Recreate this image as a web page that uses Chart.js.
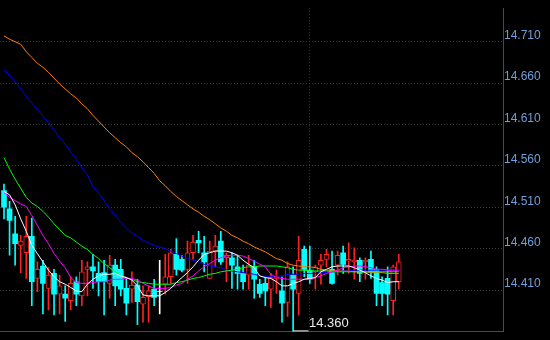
<!DOCTYPE html>
<html>
<head>
<meta charset="utf-8">
<script src="https://cdn.jsdelivr.net/npm/chart.js@4.4.1/dist/chart.umd.min.js"></script>
<style>
html, body { margin: 0; padding: 0; background: #000; }
canvas { display: block; }
</style>
</head>
<body>
<canvas id="kline" width="550" height="340"></canvas>
<script>
// daily candles, oldest first
const opens  = [14.530,14.508,14.478,14.464,14.455,14.475,14.424,14.439,14.412,14.430,14.405,14.405,14.397,14.420,14.403,14.435,14.438,14.430,14.431,14.418,14.440,14.435,14.412,14.411,14.416,14.393,14.402,14.411,14.408,14.417,14.426,14.453,14.447,14.435,14.455,14.470,14.455,14.424,14.457,14.469,14.449,14.449,14.438,14.430,14.428,14.438,14.417,14.418,14.411,14.424,14.409,14.395,14.428,14.406,14.459,14.434,14.432,14.440,14.447,14.435,14.440,14.455,14.445,14.444,14.446,14.444,14.447,14.435,14.419,14.424,14.397,14.420];
const highs  = [14.538,14.517,14.499,14.476,14.499,14.497,14.444,14.446,14.437,14.435,14.428,14.415,14.426,14.426,14.446,14.444,14.453,14.444,14.446,14.452,14.447,14.447,14.424,14.432,14.423,14.415,14.415,14.423,14.446,14.453,14.459,14.472,14.452,14.469,14.476,14.481,14.475,14.469,14.476,14.481,14.455,14.455,14.452,14.440,14.452,14.446,14.423,14.426,14.430,14.434,14.426,14.444,14.438,14.475,14.463,14.463,14.440,14.453,14.459,14.457,14.457,14.463,14.467,14.461,14.449,14.449,14.457,14.438,14.426,14.438,14.440,14.453];
const lows   = [14.496,14.452,14.440,14.431,14.424,14.391,14.408,14.381,14.386,14.380,14.381,14.372,14.386,14.391,14.391,14.403,14.412,14.403,14.380,14.400,14.391,14.403,14.380,14.395,14.368,14.371,14.371,14.391,14.381,14.405,14.418,14.428,14.432,14.418,14.447,14.455,14.432,14.424,14.438,14.441,14.420,14.412,14.411,14.411,14.411,14.400,14.401,14.391,14.389,14.406,14.371,14.378,14.360,14.380,14.426,14.418,14.411,14.417,14.438,14.417,14.428,14.430,14.430,14.423,14.420,14.423,14.424,14.391,14.391,14.380,14.380,14.411];
const closes = [14.510,14.494,14.466,14.469,14.475,14.420,14.435,14.418,14.428,14.405,14.415,14.400,14.418,14.405,14.432,14.438,14.433,14.420,14.420,14.440,14.415,14.411,14.394,14.416,14.396,14.401,14.409,14.401,14.408,14.426,14.455,14.435,14.434,14.455,14.468,14.467,14.444,14.457,14.463,14.444,14.452,14.440,14.430,14.420,14.440,14.423,14.406,14.409,14.425,14.426,14.394,14.438,14.411,14.446,14.435,14.423,14.438,14.446,14.453,14.418,14.452,14.441,14.447,14.446,14.430,14.446,14.432,14.406,14.406,14.405,14.438,14.444];

// moving averages
const ma5  = [14.529,14.525,14.513,14.496,14.481,14.464,14.454,14.444,14.434,14.426,14.420,14.417,14.413,14.409,14.408,14.417,14.423,14.427,14.429,14.429,14.430,14.427,14.425,14.422,14.415,14.404,14.403,14.403,14.403,14.407,14.412,14.419,14.425,14.431,14.438,14.446,14.453,14.455,14.457,14.457,14.457,14.455,14.452,14.446,14.441,14.437,14.427,14.425,14.424,14.420,14.415,14.415,14.418,14.420,14.423,14.424,14.425,14.432,14.435,14.438,14.439,14.439,14.439,14.437,14.434,14.431,14.427,14.424,14.422,14.419,14.420,14.420];
const ma10 = [14.528,14.522,14.518,14.514,14.511,14.500,14.488,14.476,14.466,14.454,14.445,14.437,14.425,14.419,14.418,14.418,14.419,14.420,14.420,14.422,14.423,14.423,14.424,14.424,14.422,14.418,14.415,14.412,14.412,14.412,14.413,14.416,14.418,14.423,14.427,14.433,14.438,14.442,14.446,14.449,14.451,14.452,14.452,14.451,14.448,14.445,14.441,14.438,14.429,14.425,14.424,14.423,14.423,14.423,14.423,14.423,14.425,14.427,14.430,14.432,14.434,14.437,14.438,14.439,14.439,14.438,14.437,14.435,14.435,14.434,14.434,14.434];
const ma20 = [14.570,14.556,14.544,14.533,14.522,14.515,14.511,14.505,14.498,14.490,14.483,14.476,14.473,14.468,14.463,14.459,14.453,14.448,14.442,14.437,14.432,14.427,14.425,14.423,14.420,14.419,14.418,14.417,14.417,14.417,14.417,14.419,14.420,14.422,14.424,14.425,14.427,14.429,14.430,14.432,14.433,14.434,14.435,14.437,14.438,14.438,14.439,14.439,14.439,14.439,14.438,14.437,14.435,14.434,14.434,14.433,14.433,14.433,14.433,14.432,14.432,14.432,14.432,14.432,14.432,14.432,14.432,14.432,14.432,14.432,14.432,14.432];
const ma30 = [14.676,14.669,14.662,14.653,14.644,14.636,14.628,14.620,14.612,14.603,14.594,14.586,14.577,14.568,14.558,14.549,14.535,14.527,14.518,14.508,14.500,14.492,14.485,14.479,14.475,14.470,14.467,14.464,14.462,14.460,14.457,14.454,14.451,14.448,14.446,14.444,14.441,14.439,14.438,14.437,14.434,14.433,14.432,14.431,14.430,14.429,14.427,14.426,14.426,14.427,14.427,14.429,14.429,14.429,14.430,14.430,14.430,14.431,14.431,14.432,14.432,14.433,14.433,14.434,14.434,14.434,14.434,14.434,14.434,14.434,14.434,14.434];
const ma60 = [14.717,14.713,14.710,14.707,14.698,14.691,14.684,14.679,14.673,14.666,14.659,14.653,14.647,14.642,14.635,14.629,14.621,14.614,14.607,14.600,14.594,14.588,14.583,14.576,14.571,14.565,14.558,14.551,14.542,14.536,14.529,14.523,14.518,14.513,14.508,14.504,14.499,14.495,14.490,14.485,14.481,14.476,14.473,14.469,14.466,14.462,14.459,14.456,14.452,14.448,14.446,14.442,14.440,14.439,14.438,14.438,14.437,14.435,14.434,14.434,14.433,14.433,14.433,14.432,14.432,14.432,14.431,14.431,14.431,14.430,14.430,14.430];

const priceTicks = [14.410, 14.460, 14.510, 14.560, 14.610, 14.660, 14.710];
const dayBreak = 55;   // session separator

const UP = '#ff2020', DOWN = '#00ffff', FLAT = '#ffffff';
const candleColor = opens.map((o, i) => closes[i] > o ? UP : (closes[i] < o ? DOWN : FLAT));

function maLine(values, color) {
    return {
        type: 'line',
        data: values.map((v, i) => ({ x: i, y: v })),
        borderColor: color,
        borderWidth: 1,
        pointRadius: 0,
        tension: 0,
        fill: false
    };
}

// marks the lowest low with a small tag
const lowTag = {
    id: 'lowTag',
    afterDatasetsDraw(chart) {
        let k = 0;
        lows.forEach((v, i) => { if (v < lows[k]) k = i; });
        const x = chart.scales.x.getPixelForValue(k);
        const y = chart.scales.y.getPixelForValue(lows[k]);
        const c = chart.ctx;
        c.save();
        c.strokeStyle = '#e8e8e8';
        c.lineWidth = 1;
        c.beginPath();
        c.moveTo(Math.round(x) + 0.5, y - 0.5);
        c.lineTo(Math.round(x) + 15.5, y - 0.5);
        c.stroke();
        c.fillStyle = '#e8e8e8';
        c.font = '13px "Liberation Sans", Arial, sans-serif';
        c.textBaseline = 'bottom';
        c.textAlign = 'left';
        c.fillText(lows[k].toFixed(3), Math.round(x) + 16, y - 1);
        c.restore();
    }
};

const ctx = document.getElementById('kline').getContext('2d');
new Chart(ctx, {
    type: 'bar',
    data: {
        datasets: [
            maLine(ma5, '#ffffff'),
            maLine(ma10, '#ff00ff'),
            maLine(ma20, '#00ff00'),
            maLine(ma30, '#0000ff'),
            maLine(ma60, '#ff8000'),
            {
                // bodies
                data: opens.map((o, i) => ({ x: i, y: [o, closes[i]] })),
                backgroundColor: candleColor.map(c => c === UP ? '#000' : c),
                borderColor: candleColor,
                borderWidth: candleColor.map(c => c === UP ? 1 : 0),
                borderSkipped: false,
                barThickness: 5,
                grouped: false
            },
            {
                // wicks
                data: lows.map((l, i) => ({ x: i, y: [l, highs[i]] })),
                backgroundColor: candleColor,
                borderWidth: 0,
                barThickness: 1,
                grouped: false
            }
        ]
    },
    options: {
        responsive: false,
        animation: false,
        layout: { padding: { top: 0, left: 0, right: 0, bottom: 2 } },
        plugins: {
            legend: { display: false },
            tooltip: { enabled: false }
        },
        scales: {
            x: {
                type: 'linear',
                offset: false,
                min: -0.72,
                max: 89.75,
                afterBuildTicks: s => { s.ticks = [{ value: dayBreak }]; },
                ticks: { display: false },
                grid: { color: '#3a3a3a', drawTicks: false, offset: false },
                border: { color: '#4a4a4a', dash: [1, 2] }
            },
            y: {
                position: 'right',
                min: 14.3595,
                max: 14.7505,
                afterBuildTicks: s => { s.ticks = priceTicks.map(v => ({ value: v })); },
                afterFit: s => { s.width = 47; },
                ticks: {
                    color: '#6f9fdc',
                    font: { family: '"Liberation Sans", Arial, sans-serif', size: 12 },
                    padding: 1,
                    labelOffset: -6,
                    callback: v => v.toFixed(3)
                },
                grid: { color: '#3a3a3a', drawTicks: false },
                border: { color: '#4a4a4a', dash: [1, 2] }
            }
        }
    },
    plugins: [lowTag]
});
</script>
</body>
</html>
